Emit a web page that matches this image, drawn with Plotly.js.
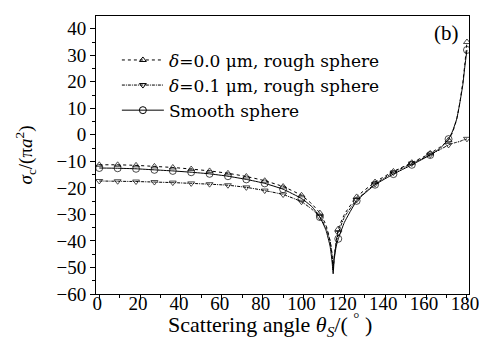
<!DOCTYPE html>
<html>
<head>
<meta charset="utf-8">
<script src="https://cdn.plot.ly/plotly-3.0.1.min.js"></script>
<style>html,body{margin:0;padding:0;background:#fff;}#chart{width:479px;height:343px;}</style>
</head>
<body>
<div id="chart"></div>
<script>
// Scattering angle (degrees), dense grid for the curves
const angles = [0, 9, 18, 27, 36, 45, 54, 63, 72, 81, 90, 99, 104, 108, 111, 113, 114, 114.5, 115, 116, 117, 120, 126, 135, 144, 153, 162, 167, 171, 173, 175, 176.5, 178, 179, 180];
// sigma_c / (pi a^2)
const rough00 = [-11.3, -11.3, -11.5, -11.9, -12.3, -12.9, -13.6, -14.5, -15.7, -17.3, -19.5, -22.8, -26, -29.5, -34, -40, -46, -51.5, -46, -40, -35.5, -30, -23.4, -17.8, -13.8, -10.5, -7, -4.5, -2, 1, 6, 12, 20, 27, 35];
const rough01 = [-17.4, -17.5, -17.6, -17.8, -18.0, -18.3, -18.6, -19.0, -19.8, -21.0, -22.5, -25.2, -28, -31, -35, -40, -45, -50, -46, -41, -37, -31, -24.5, -18.5, -14.2, -10.8, -7.5, -5.5, -3.8, -3.2, -2.8, -2.5, -2.0, -1.8, -1.5];
const smooth = [-12.5, -12.6, -12.8, -13.2, -13.6, -14.1, -14.7, -15.6, -16.8, -18.3, -20.5, -24.0, -27, -31.0, -36, -42, -48, -52.4, -47, -42, -39.2, -33, -24.9, -18.8, -14.8, -11.3, -7.6, -5, -1.6, 1.5, 6, 12, 19, 26, 32];

const legendNames = ['<i>δ</i>=0.0 μm, rough sphere', '<i>δ</i>=0.1 μm, rough sphere', 'Smooth sphere'];
const xTickVals = [0, 20, 40, 60, 80, 100, 120, 140, 160, 180];
const yTickVals = [-60, -50, -40, -30, -20, -10, 0, 10, 20, 30, 40];
const xTitle = 'Scattering angle <i>θ</i><sub><i>S</i></sub>/( <sup>°</sup> )';
const yTitle = '<i>σ</i><sub>c</sub>/(π<i>a</i><sup>2</sup>)';
const panelLabel = '(b)';

const markerEvery = 9;
function sizes(sz) { return angles.map(a => (Math.abs(a / markerEvery - Math.round(a / markerEvery)) < 1e-9) ? sz : 0); }

const styles = [
  {y: rough00, dash: 'dot', symbol: 'triangle-up-open', size: 6},
  {y: rough01, dash: '3px,1px,1px,1px', symbol: 'triangle-down-open', size: 6},
  {y: smooth, dash: 'solid', symbol: 'circle-open', size: 7}
];

const traces = [];
styles.forEach((s, i) => {
  traces.push({
    x: angles, y: s.y, type: 'scatter', mode: 'lines+markers', showlegend: false,
    line: {color: '#000', width: 1, dash: s.dash, shape: 'spline', smoothing: 0.4},
    marker: {symbol: s.symbol, size: sizes(s.size), color: '#000', line: {color: '#000', width: 1}}
  });
});
styles.forEach((s, i) => {
  traces.push({
    x: [null], y: [null], type: 'scatter', mode: 'lines+markers', name: legendNames[i], showlegend: true,
    line: {color: '#000', width: 1, dash: s.dash},
    marker: {symbol: s.symbol, size: s.size, color: '#000', line: {color: '#000', width: 1}}
  });
});

const serif = 'Liberation Serif, Times New Roman, serif';
const wide = 'DejaVu Serif, serif';
const layout = {
  width: 479, height: 343,
  margin: {l: 96, r: 10, t: 16, b: 49},
  paper_bgcolor: '#fff', plot_bgcolor: '#fff',
  font: {family: serif, color: '#000', size: 19},
  showlegend: true,
  legend: {x: 0.056, y: 0.905, xanchor: 'left', yanchor: 'top', bgcolor: 'rgba(0,0,0,0)',
           font: {family: wide, size: 17, color: '#000'}, itemwidth: 42, tracegroupgap: 0},
  xaxis: {
    range: [-1.6, 181], tickvals: xTickVals, ticks: 'outside', ticklen: 5, tickwidth: 1, tickcolor: '#000',
    minor: {dtick: 10, tick0: 0, ticks: 'outside', ticklen: 3, tickcolor: '#000', showgrid: false},
    showline: true, linecolor: '#000', linewidth: 1, mirror: true, showgrid: false, zeroline: false,
    tickfont: {family: serif, size: 19}, ticklabelstandoff: -13, ticklabelshift: -2, ticklabeloverflow: 'allow'
  },
  yaxis: {
    range: [-60, 44.8], tickvals: yTickVals, ticktext: yTickVals.map(v => v < 0 ? '−' + Math.abs(v) : String(v)),
    ticks: 'outside', ticklen: 5, tickwidth: 1, tickcolor: '#000',
    minor: {dtick: 5, tick0: 0, ticks: 'outside', ticklen: 3, tickcolor: '#000', showgrid: false},
    showline: true, linecolor: '#000', linewidth: 1, mirror: true, showgrid: false, zeroline: false,
    tickfont: {family: serif, size: 19},
    title: {text: yTitle, font: {family: serif, size: 19}, standoff: 18}
  },
  annotations: [
    {text: panelLabel, xref: 'paper', yref: 'paper', x: 0.94, y: 0.99, xanchor: 'center', yanchor: 'top',
     showarrow: false, font: {family: serif, size: 21, color: '#000'}},
    {text: xTitle, xref: 'paper', yref: 'paper', x: 0.466, y: -0.11, xanchor: 'center', yanchor: 'middle',
     showarrow: false, font: {family: serif, size: 22, color: '#000'}}
  ]
};

Plotly.newPlot('chart', traces, layout, {staticPlot: true, displayModeBar: false});
</script>
</body>
</html>
